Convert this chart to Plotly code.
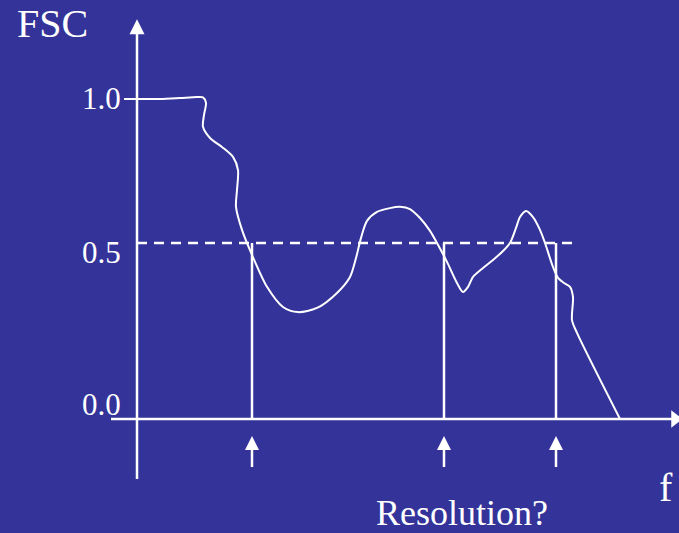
import plotly.graph_objects as go

# ---- data (f in arbitrary units, FSC value) ----
freq = [0.00, 0.23, 0.43, 0.60, 0.66, 0.69, 0.67, 0.66, 0.73, 0.85, 0.96, 1.01, 1.00, 0.99,
        1.05, 1.15, 1.30, 1.46, 1.61, 1.80, 2.00, 2.13, 2.19, 2.24, 2.30, 2.40, 2.53, 2.63,
        2.73, 2.83, 2.93, 3.00, 3.10, 3.20, 3.26, 3.31, 3.36, 3.46, 3.56, 3.66, 3.73, 3.79,
        3.83, 3.89, 3.96, 4.03, 4.08, 4.16, 4.21, 4.27, 4.33, 4.36, 4.35, 4.40, 4.83]
fsc = [1.000, 1.000, 1.003, 1.006, 1.005, 0.988, 0.950, 0.913, 0.878, 0.850, 0.819, 0.778,
       0.716, 0.663, 0.591, 0.513, 0.413, 0.350, 0.334, 0.347, 0.394, 0.444, 0.503, 0.566,
       0.619, 0.647, 0.659, 0.663, 0.656, 0.628, 0.588, 0.550, 0.491, 0.425, 0.397, 0.413,
       0.444, 0.472, 0.497, 0.525, 0.550, 0.597, 0.631, 0.650, 0.631, 0.591, 0.550, 0.475,
       0.441, 0.425, 0.413, 0.381, 0.309, 0.269, 0.000]

threshold = 0.55            # level of the dashed "0.5" line
threshold_end = 4.41        # where the dashed line stops
resolutions = [1.15, 3.07, 4.19]   # candidate resolution frequencies

tick_vals = [1.0, threshold, 0.0]
tick_text = ["1.0", "0.5", "0.0"]

BG = "#333399"
W = "white"
SERIF = "Liberation Serif, Times New Roman, serif"

fig = go.Figure()

# y axis line + arrow
fig.add_trace(go.Scatter(x=[0, 0], y=[-0.1875, 1.22], mode="lines",
                         line=dict(color=W, width=2.5), hoverinfo="skip"))
fig.add_trace(go.Scatter(x=[0], y=[1.249], mode="markers",
                         marker=dict(symbol="arrow-up", size=15, color=W, line=dict(width=0)),
                         hoverinfo="skip"))
# x axis line + arrow
fig.add_trace(go.Scatter(x=[-0.26, 5.40], y=[0, 0], mode="lines",
                         line=dict(color=W, width=2.5), hoverinfo="skip"))
fig.add_trace(go.Scatter(x=[5.38], y=[0], mode="markers",
                         marker=dict(symbol="triangle-right", size=15, color=W, line=dict(width=0)),
                         hoverinfo="skip", cliponaxis=True))
# tick at 1.0
fig.add_trace(go.Scatter(x=[-0.13, 0], y=[1.0, 1.0], mode="lines",
                         line=dict(color=W, width=2), hoverinfo="skip"))

# dashed threshold line
fig.add_trace(go.Scatter(x=[0, threshold_end], y=[threshold, threshold], mode="lines",
                         line=dict(color=W, width=2.5, dash="10px,7px"), hoverinfo="skip"))

# FSC curve
fig.add_trace(go.Scatter(x=freq, y=fsc, mode="lines",
                         line=dict(color=W, width=2, shape="spline", smoothing=0.8),
                         hoverinfo="skip"))

# vertical lines and arrows at resolutions
for r in resolutions:
    fig.add_trace(go.Scatter(x=[r, r], y=[0, threshold], mode="lines",
                             line=dict(color=W, width=2.5), hoverinfo="skip"))
    fig.add_trace(go.Scatter(x=[r, r], y=[-0.15, -0.09], mode="lines",
                             line=dict(color=W, width=2.5), hoverinfo="skip"))
    fig.add_trace(go.Scatter(x=[r], y=[-0.053], mode="markers",
                             marker=dict(symbol="arrow-up", size=14, color=W, line=dict(width=0)),
                             hoverinfo="skip"))

annotations = []
# tick labels
shifts = [1, -9, 15]
for v, t, s in zip(tick_vals, tick_text, shifts):
    annotations.append(dict(x=-0.145, y=v, text=t, showarrow=False, xanchor="right",
                            yanchor="middle", yshift=s, font=dict(family=SERIF, size=31, color=W)))
annotations.append(dict(x=-1.22, y=1.235, text="FSC", showarrow=False, xanchor="left",
                        yanchor="middle", font=dict(family=SERIF, size=40, color=W)))
annotations.append(dict(x=5.29, y=-0.2125, text="f", showarrow=False, xanchor="center",
                        yanchor="middle", font=dict(family=SERIF, size=40, color=W)))
annotations.append(dict(x=3.25, y=-0.294, text="Resolution?", showarrow=False, xanchor="center",
                        yanchor="middle", font=dict(family=SERIF, size=36, color=W)))

fig.update_layout(
    width=679, height=533,
    margin=dict(l=0, r=0, t=0, b=0),
    paper_bgcolor=BG, plot_bgcolor=BG,
    showlegend=False,
    xaxis=dict(visible=False, range=[-1.37, 5.42], fixedrange=True),
    yaxis=dict(visible=False, range=[-0.35625, 1.309375], fixedrange=True),
    annotations=annotations,
)

fig.write_html("out.html", config={"displayModeBar": False},
               post_script="document.body.style.margin='0';document.body.style.padding='0';"
                           "document.body.style.overflow='hidden';"
                           "document.body.style.background='" + BG + "';")
